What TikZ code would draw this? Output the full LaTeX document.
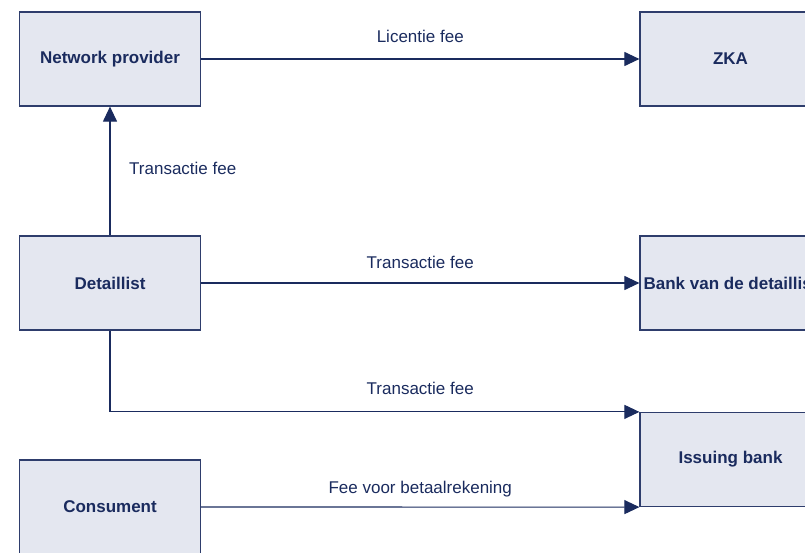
\documentclass[tikz,border=0pt]{standalone}
\usepackage{fontspec}
\setmainfont{Liberation Sans}
\usetikzlibrary{arrows.meta,calc}
\definecolor{navy}{HTML}{1A2B5E}
\definecolor{boxfill}{HTML}{E4E7F0}
\definecolor{boxline}{HTML}{2E3D6C}
\tikzset{
  party/.style={draw=boxline, line width=1.2pt, fill=boxfill,
    minimum width=181pt, minimum height=94pt, inner sep=0pt,
    text=navy, font=\fontsize{17}{20}\selectfont\bfseries},
  flow/.style={draw=navy, line width=1.1pt,
    -{Triangle[length=15pt,width=14pt]}},
  fee/.style={text=navy, font=\fontsize{17}{20}\selectfont, inner sep=0pt},
}
\begin{document}
\begin{tikzpicture}[x=1pt,y=-1pt]
\useasboundingbox (0,0) rectangle (805,553);
\clip (0,0) rectangle (805,553);

% parties
\node[party] (np)   at (110,59)    {Network provider};
\node[party] (zka)  at (730.5,59)  {ZKA};
\node[party] (det)  at (110,283)   {Detaillist};
\node[party] (bank) at (730.5,283) {Bank van de detaillist};
\node[party] (iss)  at (730.5,459.5) {Issuing bank};
\node[party] (con)  at (110,507)   {Consument};

% fee flows
\draw[flow] (np.east) -- (zka.west);
\node[fee, anchor=base, yshift=16pt] (lic) at ($(np.east)!0.5!(zka.west)$) {Licentie fee};

\draw[flow] (det.north) -- (np.south);
\node[fee, anchor=base west, xshift=19pt, yshift=-4pt] (tnp) at ($(det.north)!0.5!(np.south)$) {Transactie fee};

\draw[flow] (det.east) -- (bank.west);
\node[fee, anchor=base, yshift=15pt] (tbank) at ($(det.east)!0.5!(bank.west)$) {Transactie fee};

\draw[flow] (det.south) |- (iss.north west);
\node[fee, anchor=base, yshift=17pt] (tiss) at ($(det.east |- iss.north west)!0.5!(iss.north west)$) {Transactie fee};

\draw[flow] (con.east) -- (iss.south west);
\node[fee, anchor=base, yshift=14pt] (acc) at ($(con.east)!0.5!(iss.south west)$) {Fee voor betaalrekening};
\end{tikzpicture}
\end{document}
